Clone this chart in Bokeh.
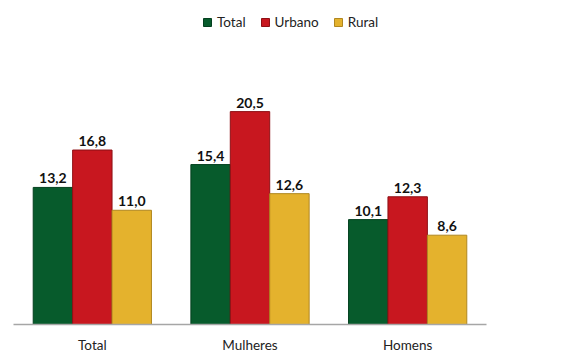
from bokeh.plotting import figure
from bokeh.models import ColumnDataSource, FactorRange, Legend, LegendItem, Range1d, LabelSet
from bokeh.transform import dodge
from bokeh.embed import file_html
from bokeh.resources import INLINE
from bokeh.core.properties import value

categories = ["Total", "Mulheres", "Homens"]
total = [13.2, 15.4, 10.1]
urbano = [16.8, 20.5, 12.3]
rural = [11.0, 12.6, 8.6]
series_names = ["Total", "Urbano", "Rural"]

def fmt(v):
    return f"{v:.1f}".replace(".", ",")

src = ColumnDataSource(dict(
    cat=categories, total=total, urbano=urbano, rural=rural,
    total_lbl=[fmt(v) for v in total],
    urbano_lbl=[fmt(v) for v in urbano],
    rural_lbl=[fmt(v) for v in rural],
))

p = figure(width=575, height=355, x_range=FactorRange(*categories, range_padding=0),
           y_range=Range1d(0, 31.2), output_backend="svg", toolbar_location=None,
           min_border_left=13, min_border_right=89, min_border_top=0, min_border_bottom=10)
p.outline_line_color = None
p.background_fill_color = "white"
p.border_fill_color = "white"
p.xgrid.grid_line_color = None
p.ygrid.grid_line_color = None
p.yaxis.visible = False
p.xaxis.axis_line_color = "#a6a6a6"
p.xaxis.axis_line_width = 1.5
p.xaxis.major_tick_line_color = None
p.xaxis.minor_tick_line_color = None
p.xaxis.major_label_text_font = "Lato"
p.xaxis.major_label_text_font_size = "13.5px"
p.xaxis.major_label_text_color = "#222222"
p.xaxis.major_label_standoff = 6

cols = ["total", "urbano", "rural"]
fills = ["#075b2c", "#c8171f", "#e4b22d"]
lines = ["#04401f", "#8e1015", "#b08720"]
offsets = [-0.25, 0.0, 0.25]
renderers = []
for c, f, l, o in zip(cols, fills, lines, offsets):
    r = p.vbar(x=dodge("cat", o, range=p.x_range), top=c, width=0.25, source=src,
               fill_color=f, line_color=l, line_width=1)
    renderers.append(r)
    lbl = LabelSet(x=dodge("cat", o, range=p.x_range), y=c, text=c + "_lbl", source=src,
                   text_align="center", text_baseline="bottom", y_offset=4,
                   text_font=value("Lato"), text_font_style="bold",
                   text_font_size="14px", text_color="#111111")
    p.add_layout(lbl)

legend = Legend(items=[LegendItem(label=n, renderers=[r]) for n, r in zip(series_names, renderers)],
                orientation="horizontal", location=(189, 294), border_line_color=None,
                background_fill_alpha=0, padding=4, margin=0, spacing=14,
                glyph_width=10, glyph_height=10, label_standoff=5, label_height=14,
                label_text_font="Lato", label_text_font_size="13.5px", label_text_color="#222222")
p.add_layout(legend, "center")

open("out.html", "w").write(file_html(p, INLINE))
